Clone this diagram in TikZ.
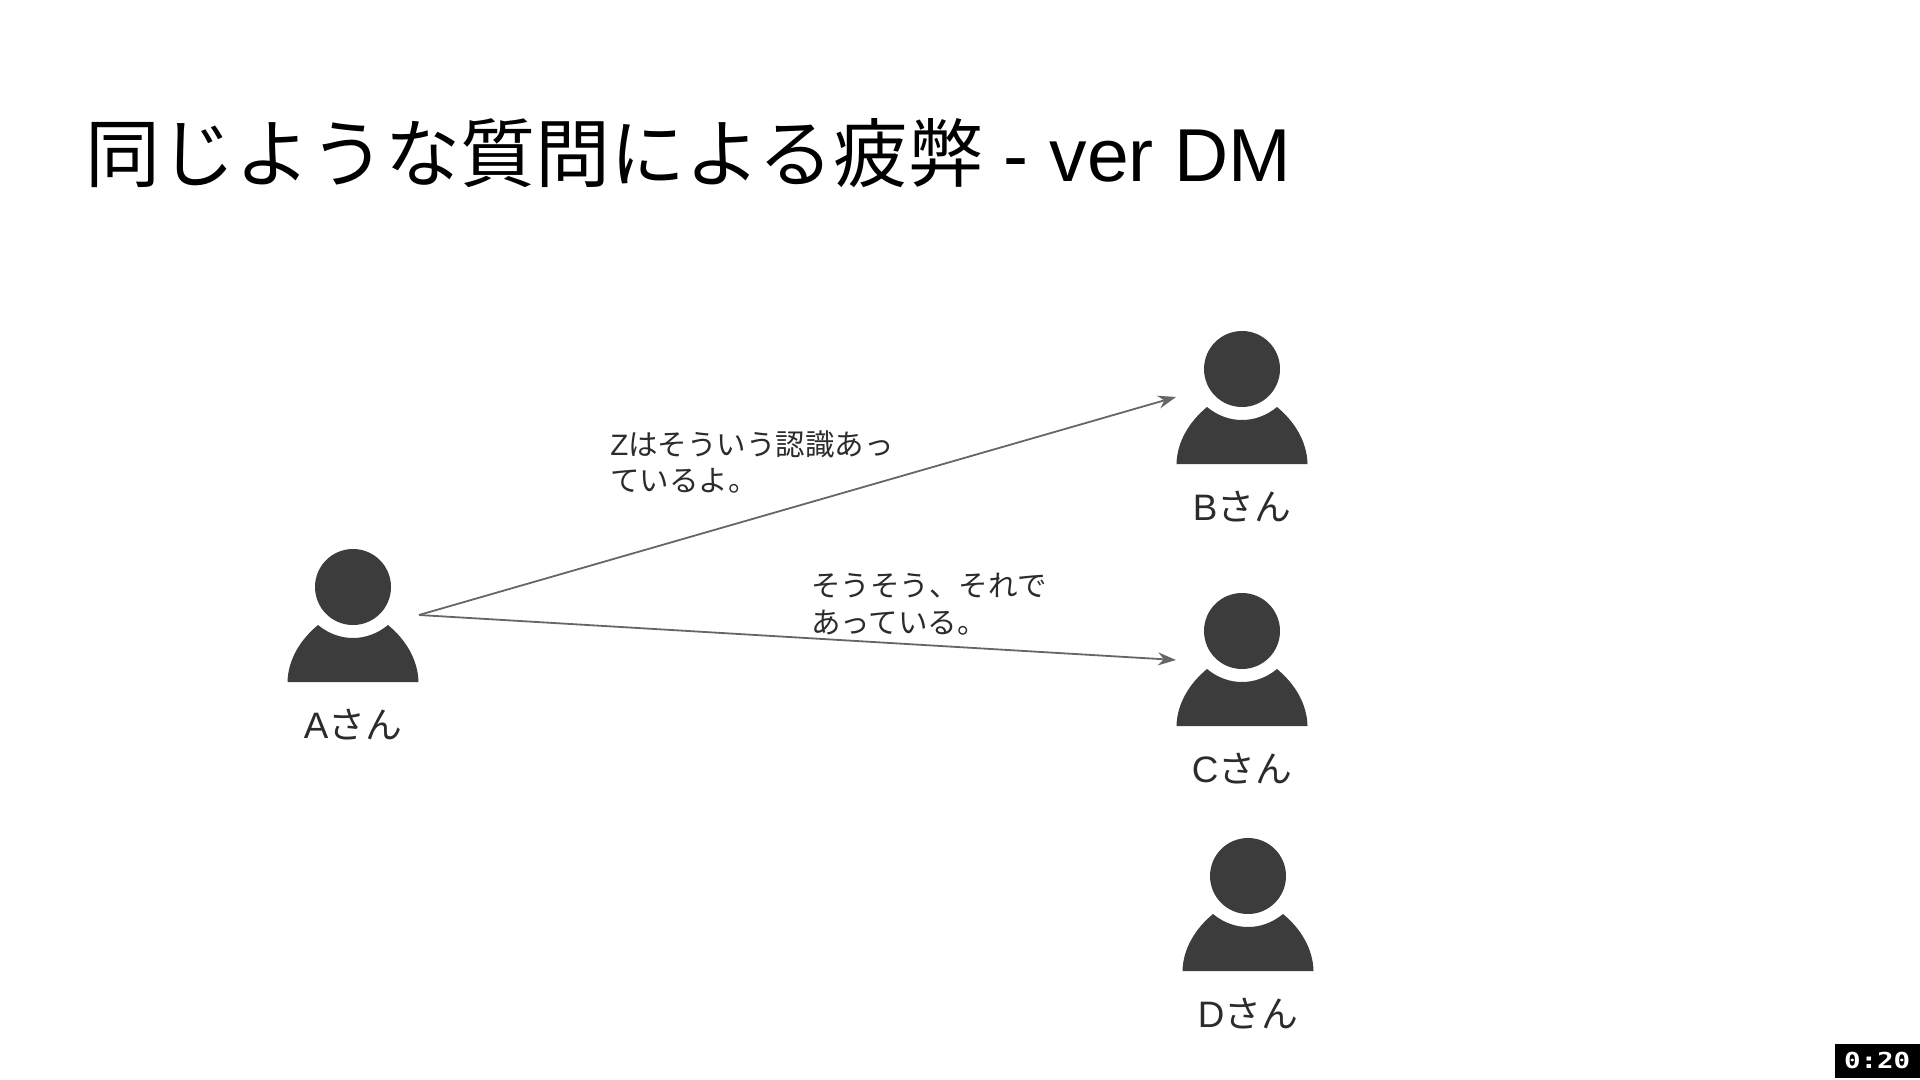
\documentclass[tikz,border=0pt]{standalone}
\usepackage{fontspec}
\setmainfont{Liberation Sans}
\newfontfamily\jpfont{Noto Sans CJK JP}
\newfontfamily\clockfont[FakeStretch=1.25]{DejaVu Sans Mono Bold}
\usetikzlibrary{arrows.meta,positioning}
\definecolor{dmDark}{HTML}{3c3c3c}
\definecolor{dmLine}{HTML}{666666}
\definecolor{dmText}{HTML}{2b2b2b}
\newcommand{\jp}[1]{{\jpfont #1}}
\tikzset{
  >={Stealth[length=9pt,width=6.5pt]},
  title/.style={font=\fontsize{37.5}{40}\selectfont, text=black, inner sep=0pt},
  nametag/.style={font=\fontsize{18.4}{20}\selectfont, text=dmText, inner sep=0pt},
  said/.style={font=\fontsize{14.75}{18.4}\selectfont, text=dmText, align=left, inner sep=0pt},
  clock/.style={fill=black, text=white, font=\clockfont\fontsize{11}{12}\selectfont,
                minimum width=42.5pt, minimum height=17pt, inner sep=0pt},
  flow/.style={->, draw=dmLine, line width=0.9pt},
  pics/person/.style={code={
    \fill[dmDark] (0,0) circle (19pt);
    \fill[dmDark] (-65.5,95) .. controls (-65,72) and (-52,52) .. (-35,38)
      .. controls (-24,47) and (-12,51) .. (0,51)
      .. controls (12,51) and (24,47) .. (35,38)
      .. controls (52,52) and (65,72) .. (65.5,95) -- cycle;
    \coordinate (-port) at (66,28);
    \node[nametag] (-tag) at (0,138) {#1};
  }},
}
\begin{document}
\begin{tikzpicture}[x=0.5pt,y=-0.5pt]
  \useasboundingbox (0,0) rectangle (1920,1080);
  \node[title,anchor=west] (head) at (85,153) {\jp{同じような質問による疲弊} - ver DM};
  \pic (a) at (353,587) {person={A\jp{さん}}};
  \pic (b) at (1242,369) {person={B\jp{さん}}};
  \pic (c) at (1242,631) {person={C\jp{さん}}};
  \pic (d) at (1248,876) {person={D\jp{さん}}};
  \coordinate (bin) at (1176,397);
  \coordinate (cin) at (1176,660);
  \draw[flow] (a-port) -- (bin);
  \draw[flow] (a-port) -- (cin);
  \node[said,anchor=west] (zsaid) at (610,462) {Z\jp{はそういう認識あっ}\\\jp{ているよ。}};
  \node[said,anchor=west] (csaid) at (811,604) {\jp{そうそう、それで}\\\jp{あっている。}};
  \node[clock,anchor=south east] (time) at (1920,1078) {0:20};
\end{tikzpicture}
\end{document}
